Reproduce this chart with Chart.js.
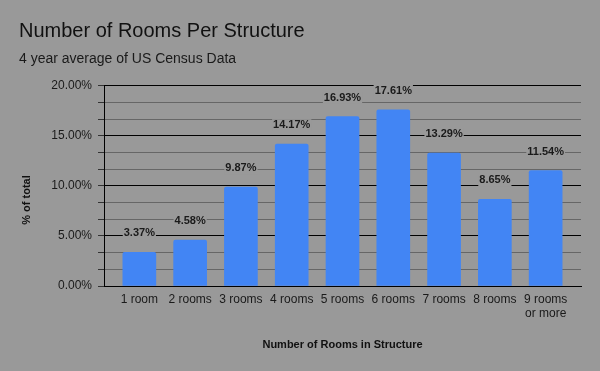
<!DOCTYPE html>
<html>
<head>
<meta charset="utf-8">
<script src="https://cdn.jsdelivr.net/npm/chart.js@4/dist/chart.umd.min.js"></script>
<style>
  html, body { margin: 0; padding: 0; background: #999999; }
  #wrap { width: 600px; height: 371px; }
</style>
</head>
<body>
<div id="wrap"><canvas id="roomsChart"></canvas></div>
<script>
// chart data
const categories = ['1 room', '2 rooms', '3 rooms', '4 rooms', '5 rooms', '6 rooms', '7 rooms', '8 rooms', ['9 rooms', 'or more']];
const percentOfTotal = [3.37, 4.58, 9.87, 14.17, 16.93, 17.61, 13.29, 8.65, 11.54];
const yMajorTicks = [0, 5, 10, 15, 20];
const yMinorPerMajor = 3;

const bgColor = '#999999';

document.addEventListener('DOMContentLoaded', function () {
    const ctx = document.getElementById('roomsChart').getContext('2d');

    // fill the canvas background
    const background = {
        id: 'background',
        beforeDraw(chart) {
            const c = chart.ctx;
            c.save();
            c.fillStyle = bgColor;
            c.fillRect(0, 0, chart.width, chart.height);
            c.restore();
        }
    };

    // value labels above each bar, with a box that hides the grid behind them
    const barLabels = {
        id: 'barLabels',
        afterDatasetsDraw(chart) {
            const c = chart.ctx;
            const meta = chart.getDatasetMeta(0);
            c.save();
            c.font = 'bold 11px "Liberation Sans", Arial, sans-serif';
            c.textAlign = 'center';
            c.textBaseline = 'middle';
            meta.data.forEach(function (bar, i) {
                const text = percentOfTotal[i].toFixed(2) + '%';
                const w = c.measureText(text).width;
                const y = bar.y - 19;
                c.fillStyle = bgColor;
                c.fillRect(bar.x - w / 2 - 1, y - 6, w + 2, 12);
                c.fillStyle = '#1a1a1a';
                c.fillText(text, bar.x, y);
            });
            c.restore();
        }
    };

    // y axis title, placed by hand
    const yTitle = {
        id: 'yTitle',
        afterDraw(chart) {
            const c = chart.ctx;
            c.save();
            c.translate(27, 200);
            c.rotate(-Math.PI / 2);
            c.font = 'bold 11px "Liberation Sans", Arial, sans-serif';
            c.textAlign = 'center';
            c.textBaseline = 'middle';
            c.fillStyle = '#111111';
            c.fillText('% of total', 0, 0);
            c.restore();
        }
    };

    const roomsChart = new Chart(ctx, {
        type: 'bar',
        data: {
            datasets: [
                {
                    label: '% of total',
                    data: percentOfTotal.map(function (v, i) { return { x: i, y: v }; }),
                    backgroundColor: '#4285f4',
                    barThickness: 33,
                    borderRadius: { topLeft: 2, topRight: 2 },
                    borderSkipped: 'start'
                }
            ]
        },
        options: {
            responsive: true,
            maintainAspectRatio: false,
            animation: false,
            layout: {
                padding: { left: 19, right: 19, top: 19, bottom: 19 }
            },
            scales: {
                x: {
                    type: 'linear',
                    offset: false,
                    min: -0.5 - 10 / 51,
                    max: categories.length - 0.5 + 10 / 51,
                    afterBuildTicks: function (scale) {
                        scale.ticks = categories.map(function (c, i) { return { value: i }; });
                    },
                    grid: { display: false, drawTicks: false, offset: false },
                    border: { display: true, color: '#000000', width: 1 },
                    ticks: {
                        autoSkip: false,
                        maxRotation: 0,
                        padding: 6,
                        color: '#1a1a1a',
                        font: { family: '"Liberation Sans", Arial, sans-serif', size: 12 },
                        callback: function (value) {
                            return categories[value];
                        }
                    },
                    title: {
                        display: true,
                        text: 'Number of Rooms in Structure',
                        color: '#111111',
                        font: { family: '"Liberation Sans", Arial, sans-serif', size: 11, weight: 'bold' },
                        padding: { top: 12, bottom: 0 }
                    }
                },
                y: {
                    min: 0,
                    max: 20,
                    afterBuildTicks: function (scale) {
                        const step = (yMajorTicks[1] - yMajorTicks[0]) / yMinorPerMajor;
                        const ticks = [];
                        const n = (yMajorTicks.length - 1) * yMinorPerMajor;
                        for (let i = 0; i <= n; i++) {
                            ticks.push({ value: yMajorTicks[0] + i * step });
                        }
                        scale.ticks = ticks;
                    },
                    afterFit: function (scale) {
                        scale.width = 85;
                    },
                    grid: {
                        color: function (context) {
                            return context.index % yMinorPerMajor === 0 ? '#000000' : '#666666';
                        },
                        tickColor: '#333333',
                        tickLength: 6,
                        drawTicks: true
                    },
                    border: { display: true, color: '#000000', width: 1 },
                    ticks: {
                        autoSkip: false,
                        padding: 6,
                        color: '#1a1a1a',
                        font: { family: '"Liberation Sans", Arial, sans-serif', size: 12 },
                        callback: function (value, index) {
                            return index % yMinorPerMajor === 0 ? value.toFixed(2) + '%' : '';
                        }
                    }
                }
            },
            plugins: {
                legend: { display: false },
                tooltip: { enabled: false },
                title: {
                    display: true,
                    text: 'Number of Rooms Per Structure',
                    align: 'start',
                    color: '#111111',
                    font: { family: '"Liberation Sans", Arial, sans-serif', size: 20, weight: 'normal' },
                    padding: { top: 0, bottom: 8 }
                },
                subtitle: {
                    display: true,
                    text: '4 year average of US Census Data',
                    align: 'start',
                    color: '#1a1a1a',
                    font: { family: '"Liberation Sans", Arial, sans-serif', size: 14 },
                    padding: { top: 0, bottom: 18 }
                }
            }
        },
        plugins: [background, barLabels, yTitle]
    });
});
</script>
</body>
</html>
